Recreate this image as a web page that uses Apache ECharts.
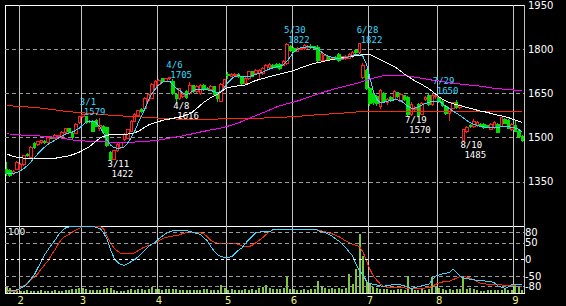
<!DOCTYPE html>
<html><head><meta charset="utf-8">
<script src="https://cdn.jsdelivr.net/npm/echarts@6/dist/echarts.min.js"></script>
<style>html,body{margin:0;padding:0;background:#000;}#c{width:566px;height:306px;}
#c svg path{shape-rendering:crispEdges;}</style>
</head><body><div id="c"></div>
<script>
const dates = ['1/26','1/27','1/28','1/31','2/1','2/2','2/3','2/4','2/7','2/8','2/9','2/10','2/14','2/15','2/16','2/17','2/18','2/21','2/22','2/24','2/25','2/28','3/1','3/2','3/3','3/4','3/7','3/8','3/9','3/10','3/11','3/14','3/15','3/16','3/17','3/18','3/22','3/23','3/24','3/25','3/28','3/29','3/30','3/31','4/1','4/4','4/5','4/6','4/7','4/8','4/11','4/12','4/13','4/14','4/15','4/18','4/19','4/20','4/21','4/22','4/25','4/26','4/27','4/28','5/2','5/6','5/9','5/10','5/11','5/12','5/13','5/16','5/17','5/18','5/19','5/20','5/23','5/24','5/25','5/26','5/27','5/30','5/31','6/1','6/2','6/3','6/6','6/7','6/8','6/9','6/10','6/13','6/14','6/15','6/16','6/17','6/20','6/21','6/22','6/23','6/24','6/27','6/28','6/29','6/30','7/1','7/4','7/5','7/6','7/7','7/8','7/11','7/12','7/13','7/14','7/15','7/19','7/20','7/21','7/22','7/25','7/26','7/27','7/28','7/29','8/1','8/2','8/3','8/4','8/5','8/8','8/9','8/10','8/12','8/15','8/16','8/17','8/18','8/19','8/22','8/23','8/24','8/25','8/26','8/29','8/30','8/31','9/1','9/2','9/5'];

const opens = [1393,1388,1377,1393,1388,1410,1444,1433,1480,1475,
1482,1487,1483,1502,1497,1503,1503,1516,1530,1514,
1515,1550,1572,1572,1556,1556,1558,1530,1539,1533,
1450,1427,1455,1465,1494,1497,1522,1556,1576,1597,
1600,1625,1634,1668,1679,1699,1692,1700,1692,1645,
1634,1640,1656,1650,1676,1656,1650,1676,1668,1664,
1672,1648,1624,1670,1714,1709,1711,1714,1706,1683,
1701,1723,1718,1716,1718,1729,1737,1746,1748,1748,
1746,1750,1808,1802,1793,1800,1802,1806,1810,1808,
1807,1763,1760,1774,1766,1772,1782,1766,1768,1770,
1774,1794,1790,1705,1729,1668,1650,1640,1604,1650,
1618,1636,1630,1652,1624,1642,1636,1578,1596,1612,
1580,1628,1644,1614,1640,1636,1622,1604,1582,1600,
1620,1603,1490,1520,1540,1536,1541,1546,1545,1540,
1528,1534,1545,1538,1562,1558,1528,1540,1522,1505];
const closes = [1377,1371,1386,1416,1410,1438,1438,1466,1466,1486,
1489,1484,1500,1498,1508,1507,1519,1530,1520,1500,
1544,1572,1577,1550,1553,1522,1539,1540,1516,1472,
1424,1455,1477,1483,1511,1527,1556,1578,1591,1587,
1634,1645,1679,1690,1695,1690,1701,1703,1651,1632,
1665,1646,1636,1676,1655,1675,1678,1662,1664,1674,
1645,1632,1680,1696,1711,1714,1715,1706,1684,1700,
1723,1707,1729,1728,1735,1746,1748,1737,1738,1735,
1759,1816,1796,1792,1804,1803,1812,1810,1806,1804,
1763,1785,1778,1763,1770,1766,1760,1774,1776,1782,
1790,1788,1818,1746,1668,1617,1620,1617,1660,1624,
1630,1626,1658,1640,1646,1630,1578,1612,1600,1574,
1615,1636,1612,1644,1644,1624,1610,1582,1598,1618,
1602,1608,1526,1534,1536,1553,1550,1542,1533,1536,
1545,1550,1517,1567,1548,1531,1545,1522,1505,1490];
const lows = [1371,1366,1373,1390,1385,1405,1434,1430,1460,1472,
1478,1478,1480,1494,1494,1500,1500,1513,1516,1496,
1512,1546,1566,1546,1548,1518,1535,1522,1512,1468,
1422,1424,1450,1460,1490,1494,1518,1552,1572,1583,
1596,1621,1630,1664,1675,1686,1688,1695,1645,1616,
1628,1635,1630,1645,1650,1650,1645,1658,1660,1660,
1640,1622,1620,1666,1700,1705,1707,1702,1680,1678,
1697,1704,1714,1700,1714,1725,1733,1733,1735,1730,
1742,1746,1792,1788,1790,1796,1798,1802,1802,1800,
1758,1758,1756,1760,1762,1762,1756,1762,1765,1767,
1770,1784,1786,1698,1660,1608,1612,1606,1598,1616,
1612,1620,1626,1634,1620,1624,1570,1575,1590,1572,
1576,1624,1606,1608,1632,1618,1604,1578,1558,1596,
1598,1598,1485,1516,1532,1532,1536,1538,1530,1532,
1525,1530,1514,1535,1545,1528,1524,1518,1500,1486];
const highs = [1416,1392,1390,1420,1414,1442,1448,1470,1484,1490,
1492,1492,1503,1505,1512,1510,1522,1534,1533,1518,
1548,1575,1579,1574,1560,1560,1562,1566,1542,1536,
1454,1458,1480,1486,1515,1530,1560,1582,1595,1600,
1638,1650,1684,1695,1700,1702,1703,1705,1698,1648,
1670,1650,1660,1688,1680,1680,1682,1682,1672,1680,
1676,1654,1684,1700,1722,1718,1719,1720,1710,1705,
1727,1726,1733,1732,1740,1750,1752,1750,1752,1752,
1764,1822,1814,1806,1808,1807,1816,1814,1816,1812,
1814,1790,1782,1778,1774,1776,1786,1778,1780,1786,
1794,1798,1822,1752,1734,1672,1656,1645,1664,1654,
1636,1640,1662,1656,1652,1646,1640,1620,1606,1616,
1620,1642,1648,1648,1650,1642,1626,1610,1602,1622,
1626,1614,1530,1540,1545,1562,1555,1550,1548,1544,
1550,1556,1550,1570,1566,1562,1550,1560,1526,1508];

const maShort = [1377,1377,1378,1382,1388,1396,1405,1418,1432,1445,
1458,1468,1478,1485,1492,1499,1505,1512,1516,1519,
1525,1532,1543,1553,1556,1556,1549,1535,1515,1492,
1475,1466,1464,1465,1468,1482,1500,1522,1550,1575,
1600,1628,1650,1666,1678,1688,1692,1692,1680,1668,
1660,1650,1646,1652,1660,1663,1663,1663,1662,1660,
1656,1652,1658,1672,1688,1700,1708,1710,1708,1706,
1707,1710,1715,1718,1722,1728,1733,1737,1740,1743,
1747,1760,1775,1790,1800,1805,1807,1808,1807,1805,
1800,1790,1782,1776,1772,1770,1768,1769,1771,1775,
1779,1782,1784,1775,1748,1700,1655,1630,1618,1620,
1624,1626,1628,1628,1625,1615,1606,1600,1600,1604,
1610,1616,1620,1623,1624,1623,1615,1605,1598,1590,
1583,1575,1567,1558,1550,1545,1541,1538,1536,1535,
1535,1535,1535,1537,1539,1537,1535,1532,1528,1518];
const maMid = [1445,1440,1436,1433,1432,1430,1429,1428,1428,1428,
1428,1428,1428,1428,1430,1432,1434,1436,1438,1442,
1446,1451,1457,1463,1470,1480,1490,1499,1504,1508,
1510,1510,1510,1510,1511,1512,1514,1517,1521,1528,
1536,1543,1547,1551,1555,1558,1561,1563,1565,1568,
1570,1573,1577,1581,1590,1600,1610,1620,1628,1636,
1642,1648,1656,1664,1670,1672,1674,1676,1677,1679,
1684,1689,1694,1697,1700,1704,1707,1710,1713,1716,
1719,1722,1724,1728,1732,1737,1741,1745,1749,1752,
1755,1757,1760,1762,1765,1767,1769,1771,1772,1774,
1776,1778,1780,1781,1782,1782,1776,1770,1764,1758,
1752,1747,1741,1734,1724,1715,1707,1700,1692,1686,
1680,1673,1666,1657,1647,1638,1630,1624,1619,1615,
1612,1609,1606,1602,1599,1596,1593,1590,1588,1585,
1582,1579,1576,1574,1571,1568,1563,1559,1555,1551];
const maLong = [1513,1512,1511,1510,1509,1508,1508,1507,1506,1506,
1505,1504,1503,1502,1501,1500,1498,1496,1494,1492,
1491,1490,1489,1488,1488,1487,1487,1486,1486,1485,
1485,1485,1485,1485,1485,1485,1485,1485,1486,1486,
1487,1488,1489,1490,1492,1494,1496,1498,1500,1502,
1504,1506,1509,1511,1514,1516,1519,1521,1524,1526,
1528,1530,1533,1536,1539,1542,1546,1550,1555,1560,
1565,1570,1575,1579,1584,1589,1594,1599,1604,1608,
1611,1615,1618,1621,1624,1628,1632,1636,1640,1644,
1648,1652,1656,1659,1663,1666,1669,1672,1675,1678,
1681,1684,1687,1691,1695,1699,1702,1705,1708,1710,
1711,1712,1712,1712,1712,1711,1709,1707,1705,1703,
1701,1699,1697,1695,1694,1692,1690,1688,1687,1685,
1684,1682,1681,1679,1678,1677,1676,1674,1673,1671,
1669,1667,1666,1665,1664,1663,1662,1661,1660,1659];
const maYear = [1609,1608,1607,1606,1606,1605,1604,1603,1602,1601,
1600,1599,1597,1596,1594,1592,1591,1589,1588,1587,
1586,1585,1584,1583,1582,1581,1580,1579,1578,1577,
1576,1576,1575,1574,1573,1573,1572,1571,1570,1570,
1569,1568,1567,1567,1566,1566,1565,1565,1564,1563,
1563,1563,1563,1563,1563,1563,1563,1563,1563,1563,
1563,1563,1564,1564,1564,1564,1564,1565,1565,1565,
1565,1566,1566,1566,1566,1567,1567,1567,1568,1569,
1569,1570,1571,1572,1572,1573,1574,1575,1576,1577,
1578,1578,1579,1580,1581,1582,1583,1583,1584,1585,
1586,1587,1588,1588,1589,1589,1589,1589,1589,1589,
1589,1589,1589,1589,1589,1589,1589,1589,1589,1589,
1589,1589,1589,1589,1589,1589,1589,1589,1589,1589,
1589,1589,1589,1589,1589,1589,1589,1589,1589,1589,
1589,1589,1589,1589,1589,1589,1589,1589,1589,1589];

const volumes = [7,5,3,3,2,2,3,2,2,2,
3,2,2,2,3,2,2,3,3,4,
4,5,5,4,3,3,3,3,4,5,
5,3,2,2,2,3,4,3,4,4,
3,4,6,4,4,3,4,4,4,4,
3,3,3,3,3,3,3,4,4,3,
3,3,8,5,3,4,3,3,3,4,
3,4,3,5,6,8,5,4,4,4,
5,17,4,4,3,3,4,3,4,4,
12,7,5,4,5,4,5,4,5,19,
9,24,58,36,11,9,6,5,4,4,
4,3,3,4,4,3,17,4,3,3,
4,3,4,16,7,5,4,3,4,3,
4,4,16,4,5,4,3,2,2,3,
3,3,3,3,4,3,3,7,7,3];

const rciShort = [-94,-94,-94,-90,-86,-80,-72,-58,-45,-25,
-5,15,30,45,58,75,86,94,97,98,
100,100,100,100,100,100,95,92,80,60,
30,5,-8,-15,-17,-12,-6,0,8,18,
28,40,46,52,62,70,78,83,86,87,
87,87,86,84,80,78,75,65,55,38,
25,14,8,7,7,8,18,28,35,48,
60,70,80,82,83,83,83,90,90,91,
91,91,91,91,91,91,91,91,91,91,
86,83,80,75,70,62,55,45,35,22,
10,-16,-35,-46,-66,-72,-74,-76,-79,-80,
-78,-76,-76,-76,-76,-78,-84,-86,-84,-80,
-79,-76,-74,-61,-50,-46,-43,-41,-39,-29,
-39,-50,-55,-57,-59,-61,-62,-63,-64,-65,
-66,-70,-79,-83,-86,-82,-75,-74,-74,-74];
const rciLong = [-96,-96,-96,-94,-85,-78,-70,-62,-52,-42,
-28,-15,-3,15,30,48,62,70,75,82,
88,93,98,100,100,100,100,98,92,70,
50,35,25,18,17,17,17,20,27,33,
38,42,46,50,56,62,66,68,70,71,
74,78,80,80,80,80,80,76,68,57,
52,48,48,48,48,48,48,45,40,38,
38,43,50,58,65,75,83,88,90,91,
91,91,91,91,91,91,91,91,91,91,
88,85,83,80,77,72,68,62,55,50,
45,42,38,22,-5,-30,-50,-62,-74,-80,
-83,-84,-84,-84,-84,-85,-86,-86,-86,-86,
-86,-85,-84,-80,-74,-70,-67,-66,-65,-60,
-56,-51,-51,-53,-56,-61,-66,-71,-72,-74,
-74,-74,-74,-76,-77,-78,-78,-79,-80,-81];

const highMarks = [['3/1',1579],['4/6',1705],['5/30',1822],['6/28',1822],['7/29',1650]];
const lowMarks = [['3/11',1422],['4/8',1616],['7/19',1570],['8/10',1485]];
const priceTicks = [1350,1500,1650,1800,1950];
const rciTicks = [80,50,0,-50,-80];

const month = d => d.split('/')[0];
const monthStart = (idx) => idx > 0 && month(dates[idx]) !== month(dates[idx - 1]);
const candles = dates.map((d, i) => [opens[i], closes[i], lows[i], highs[i]]);

const CYAN = '#38d8ff';
const monoFont = 'DejaVu Sans Mono';
function markLabel(color, pos) {
  return {
    show: true, position: pos, align: 'left', verticalAlign: 'top',
    formatter: p => '{a|' + p.name + '}\n{b|' + p.value + '}',
    rich: {
      a: {color: color, fontFamily: monoFont, fontSize: 9, lineHeight: 10},
      b: {color: color, fontFamily: monoFont, fontSize: 9, lineHeight: 10, padding: [0, 0, 0, 4]}
    }
  };
}
const marks = highMarks.map(([d, v]) => ({name: d, value: v, coord: [d, v], label: markLabel(CYAN, [-2.5, -17])}))
  .concat(lowMarks.map(([d, v]) => ({name: d, value: v, coord: [d, v], label: markLabel('#ffffff', [-2.5, -1.5])})));

const lineS = (data, color, xi, yi) => ({
  type: 'line', data: data, xAxisIndex: xi, yAxisIndex: yi, symbol: 'none', silent: true,
  lineStyle: {color: color, width: 1}, z: 3
});

const chart = echarts.init(document.getElementById('c'), null, {renderer: 'svg'});
chart.setOption({
  backgroundColor: '#000',
  animation: false,
  grid: [
    {left: 5, top: 2, width: 519, height: 224, show: true, borderColor: '#ffffff', borderWidth: 1, backgroundColor: 'transparent', z: 0},
    {left: 5, top: 226, width: 519, height: 67, show: true, borderColor: '#ffffff', borderWidth: 1, backgroundColor: 'transparent', z: 0}
  ],
  xAxis: [
    {type: 'category', data: dates, gridIndex: 0, boundaryGap: true,
     axisLine: {show: false}, axisTick: {show: false}, axisLabel: {show: false},
     splitLine: {show: true, interval: monthStart, lineStyle: {color: '#c4c4c4', width: 1}}},
    {type: 'category', data: dates, gridIndex: 1, boundaryGap: true,
     axisLine: {show: false}, axisTick: {show: false},
     axisLabel: {show: true, interval: monthStart, formatter: d => month(d), color: '#f0f08c', fontSize: 10, fontFamily: 'DejaVu Sans', margin: 2},
     splitLine: {show: true, interval: monthStart, lineStyle: {color: '#c4c4c4', width: 1}}}
  ],
  yAxis: [
    {type: 'value', gridIndex: 0, position: 'right', min: 1200, max: 1950, interval: 150,
     axisLine: {show: false}, axisTick: {show: false},
     axisLabel: {color: '#ffffff', fontSize: 10, fontFamily: 'DejaVu Sans', margin: 4, padding: [4, 0, 0, 0],
       formatter: v => priceTicks.includes(v) ? String(v) : ''},
     splitLine: {show: true, showMinLine: false, showMaxLine: false, lineStyle: {color: '#9a9a9a', width: 1, type: [4, 3]}}},
    {type: 'value', gridIndex: 1, position: 'right', min: -100, max: 100, interval: 10,
     axisLine: {show: false}, axisTick: {show: false},
     axisLabel: {color: '#ffffff', fontSize: 10, fontFamily: 'DejaVu Sans', margin: 1,
       formatter: v => rciTicks.includes(v) ? String(v) : ''},
     splitLine: {show: false}},
    {type: 'value', gridIndex: 1, min: 0, max: 66, show: false}
  ],
  graphic: [
    {type: 'text', left: 8, top: 227, silent: true, style: {text: '100', fill: '#ffffff', font: '9px DejaVu Sans'}}
  ],
  series: [
    {type: 'bar', data: volumes, xAxisIndex: 1, yAxisIndex: 2, barWidth: 2, silent: true,
     itemStyle: {color: '#80c840'}, z: 1},
    {type: 'candlestick', data: candles, xAxisIndex: 0, yAxisIndex: 0, barWidth: 3, silent: true,
     itemStyle: {color: '#000000', color0: '#00e000', borderColor: '#ff2020', borderColor0: '#00e000', borderWidth: 1},
     markPoint: {symbol: 'rect', symbolSize: 1, silent: true, itemStyle: {color: 'rgba(0,0,0,0)'}, data: marks},
     z: 2},
    lineS(maYear, '#ff2a00', 0, 0),
    lineS(maLong, '#ff00ff', 0, 0),
    lineS(maMid, '#ffffff', 0, 0),
    lineS(maShort, CYAN, 0, 0),
    Object.assign(lineS(rciLong, '#ff2a00', 1, 1), {
      markLine: {symbol: ['none', 'none'], silent: true, label: {show: false},
        lineStyle: {color: '#9a9a9a', width: 1, type: [4, 3]},
        data: rciTicks.map(v => v === 0 ? {yAxis: v, lineStyle: {color: '#ffffff', type: [3, 3]}} : {yAxis: v})}
    }),
    lineS(rciShort, CYAN, 1, 1)
  ]
});
</script>
</body></html>
